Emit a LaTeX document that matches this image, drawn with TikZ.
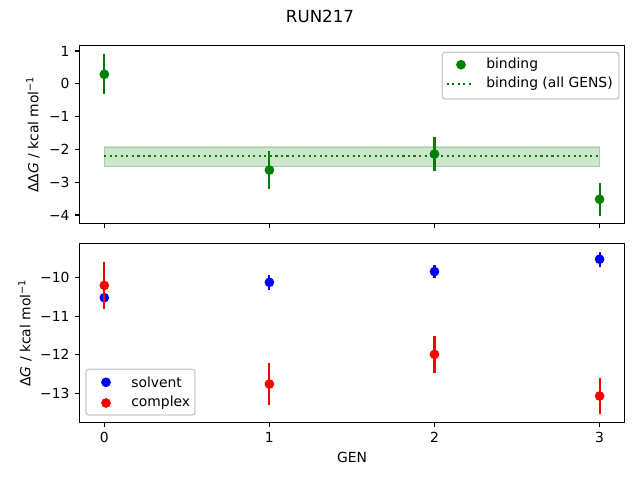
\documentclass[tikz,border=0pt]{standalone}
\usepackage{fontspec}
\setmainfont{DejaVu Sans}
\definecolor{mgreen}{HTML}{008000}
\definecolor{mblue}{HTML}{0000FF}
\definecolor{mred}{HTML}{FF0000}
\definecolor{legedge}{HTML}{CCCCCC}
\tikzset{
  spine/.style={line width=0.8pt},
  tickmark/.style={line width=0.8pt},
  ticklab/.style={inner sep=0pt,font=\fontsize{10}{12}\selectfont},
  ebar/.style={line width=1.5pt},
  mdot/.style={radius=3.5pt},
  legbox/.style={draw=legedge,fill=white,line width=1pt,rounded corners=2pt},
  legtext/.style={anchor=west,inner sep=0pt,font=\fontsize{10}{12}\selectfont},
  mdotted/.style={line width=1.5pt,dash pattern=on 1.5pt off 2.475pt,mgreen}
}
\begin{document}
\begin{tikzpicture}[x=0.72pt,y=-0.72pt]
\useasboundingbox (0,0) rectangle (640,480);
% title
\node[font=\fontsize{12}{14}\selectfont,inner sep=0pt] (title) at (320,16.5) {RUN217};

% ---------------- top axes ----------------
\begin{scope}[shift={(104.3,83.8)},x=118.87pt,y=23.616pt]
  \fill[mgreen,opacity=0.2] (0,-1.93) rectangle (3,-2.53);
  \draw[mgreen,opacity=0.2,line width=1pt] (0,-1.93) rectangle (3,-2.53);
  \coordinate (la) at (0,-2.2);
  \coordinate (lb) at (3,-2.2);
  \draw[mdotted] (la) -- (lb);
  % errorbars
  \foreach \gx/\gy/\ge in {0/0.29/0.61,1/-2.63/0.58,2/-2.14/0.52,3/-3.52/0.5}{
    \draw[ebar,mgreen] (\gx,\gy-\ge) -- (\gx,\gy+\ge);
    \fill[mgreen] (\gx,\gy) circle[mdot];
  }
  \draw[spine] (-0.15,1.174) rectangle (3.15,-4.258);
  \foreach \yy/\lab in {1/1,0/0,-1/−1,-2/−2,-3/−3,-4/−4}{
    \draw[tickmark] (-0.15,\yy) -- ++(-3.5pt,0);
    \node[ticklab,anchor=east] (ty\yy) at ([xshift=-7pt]-0.15,\yy) {\lab};
  }
  \foreach \xx in {0,1,2,3}{
    \draw[tickmark] (\xx,-4.258) -- ++(0,-3.5pt);
  }
\end{scope}
\node[rotate=90,inner sep=0pt,font=\fontsize{10}{12}\selectfont] (ylab1) at (33,134.6) {ΔΔ\textit{G} / kcal mol\textsuperscript{−1}};

% top legend
\draw[legbox] (442.3,52.3) rectangle (619,99);
\fill[mgreen] (461,64.7) circle[mdot];
\coordinate (lga) at (446.7,84);
\coordinate (lgb) at (470.7,84);
\draw[mdotted] (lga) -- (lgb);
\node[legtext] (lt1) at (486,64.7) {binding};
\node[legtext] (lt2) at (486,84) {binding (all GENS)};

% ---------------- bottom axes ----------------
\begin{scope}[shift={(104.3,-107.6)},x=118.87pt,y=27.742pt]
  \foreach \gx/\gy/\ge in {0/-10.52/0.19,1/-10.12/0.19,2/-9.84/0.16,3/-9.52/0.19}{
    \draw[ebar,mblue] (\gx,\gy-\ge) -- (\gx,\gy+\ge);
    \fill[mblue] (\gx,\gy) circle[mdot];
  }
  \foreach \gx/\gy/\ge in {0/-10.20/0.61,1/-12.76/0.54,2/-11.99/0.48,3/-13.07/0.47}{
    \draw[ebar,mred] (\gx,\gy-\ge) -- (\gx,\gy+\ge);
    \fill[mred] (\gx,\gy) circle[mdot];
  }
  \draw[spine] (-0.15,-9.118) rectangle (3.15,-13.753);
  \foreach \yy/\lab in {-10/−10,-11/−11,-12/−12,-13/−13}{
    \draw[tickmark] (-0.15,\yy) -- ++(-3.5pt,0);
    \node[ticklab,anchor=east] (tb\yy) at ([xshift=-7pt]-0.15,\yy) {\lab};
  }
  \foreach \xx in {0,1,2,3}{
    \draw[tickmark] (\xx,-13.753) -- ++(0,-3.5pt);
    \node[ticklab,anchor=north] (tx\xx) at ([yshift=-7pt]\xx,-13.753) {\xx};
  }
\end{scope}
\node[rotate=90,inner sep=0pt,font=\fontsize{10}{12}\selectfont] (ylab2) at (25,333) {Δ\textit{G} / kcal mol\textsuperscript{−1}};
\node[inner sep=0pt,font=\fontsize{10}{12}\selectfont] (xlab) at (352,457) {GEN};

% bottom legend
\draw[legbox] (86,369.3) rectangle (195,415);
\fill[mblue] (106,382.3) circle[mdot];
\fill[mred] (106,403) circle[mdot];
\node[legtext] (ls1) at (131,382.3) {solvent};
\node[legtext] (ls2) at (131,403) {complex};
\end{tikzpicture}
\end{document}
